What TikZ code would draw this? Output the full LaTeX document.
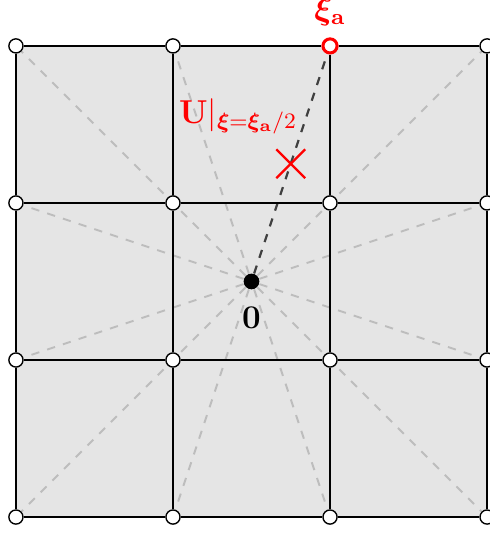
\documentclass[tikz,border=0pt]{standalone}
\usepackage{amsmath,bm}
\usetikzlibrary{positioning,calc,backgrounds,shapes.misc}
\definecolor{cellfill}{HTML}{E5E5E5}
\definecolor{raydash}{HTML}{BDBDBD}
\tikzset{
  gridpt/.style={circle,draw,fill=white,inner sep=0pt,minimum size=0.18cm,line width=0.5pt},
  endpt/.style={circle,draw=red,fill=white,inner sep=0pt,minimum size=0.18cm,line width=1.1pt},
  centerpt/.style={circle,fill=black,inner sep=0pt,minimum size=0.2cm},
  crossmark/.style={cross out,draw=red,inner sep=0pt,minimum size=0.34cm,line width=0.8pt},
  gridline/.style={line width=0.75pt},
  ray/.style={raydash,dashed,line width=0.7pt},
  mainray/.style={black!75,dashed,line width=0.8pt},
  labeltext/.style={font=\large,text=red}
}

\begin{document}
\begin{tikzpicture}
  \useasboundingbox (-0.203,-0.216) rectangle (6.025,6.585);
  % grid points
  \foreach \i in {0,...,3}
    \foreach \j in {0,...,3}
      {\ifnum\i\j=23 \else \node[gridpt] (n-\i-\j) at (2*\i,2*\j) {};\fi}
  \node[endpt,label={[labeltext,label distance=0.02cm]above:$\boldsymbol{\xi}_{\mathbf{a}}$}] (n-2-3) at (4,6) {};
  \node[centerpt,label={[font=\large,label distance=0.1cm]below:$\mathbf{0}$}] (c) at (3,3) {};
  \node[crossmark] (half) at ($(c)!0.5!(n-2-3)$) {};
  \node[labeltext] (ulabel) at (2.83,5.1) {$\mathbf{U}|_{\boldsymbol{\xi}=\boldsymbol{\xi}_{\mathbf{a}}/2}$};

  \begin{scope}[on background layer]
    \fill[cellfill] (n-0-0.center) rectangle (n-3-3.center);
    % rays from the centre
    \foreach \b in {0-0,1-0,2-0,3-0,3-1,3-2,3-3,1-3,0-3,0-2,0-1}
      \draw[ray] (c) -- (n-\b);
    \draw[mainray] (c) -- (n-2-3);
    % cell edges
    \foreach \i in {0,...,3}
      \foreach \j/\k in {0/1,1/2,2/3}
        {\draw[gridline] (n-\i-\j) -- (n-\i-\k);
         \draw[gridline] (n-\j-\i) -- (n-\k-\i);}
  \end{scope}
\end{tikzpicture}
\end{document}
